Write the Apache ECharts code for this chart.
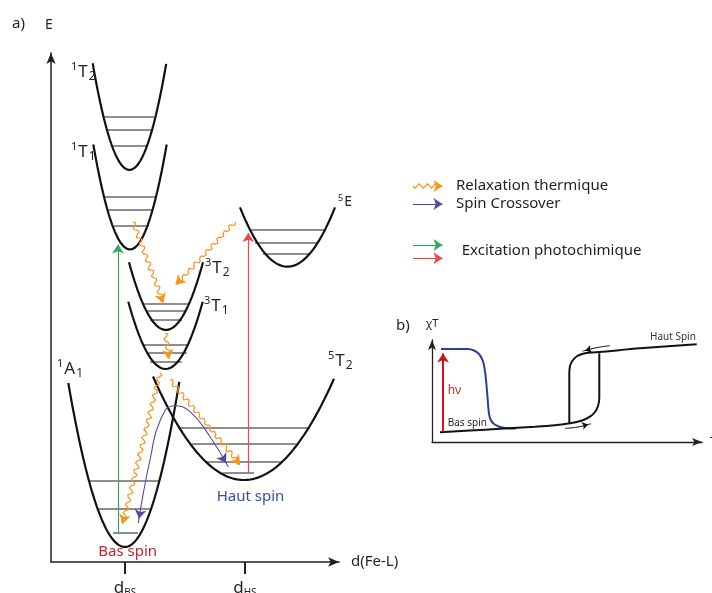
<!DOCTYPE html>
<html><head><meta charset="utf-8">
<script src="https://cdn.jsdelivr.net/npm/echarts@6/dist/echarts.min.js"></script>
<style>html,body{margin:0;padding:0;background:#fff}#c{width:712px;height:593px}</style>
</head><body><div id="c"></div>
<script>
// ---------- DATA (a): potential wells E = E0 + k (d - d0)^2 ----------
const wellNames = ['1T2', '1T1', '3T2', '3T1', '5E', '5T2', '1A1'];
const wellD0 = [78.5, 79, 115, 114.5, 236.5, 193, 74];
const wellE0 = [392, 312.5, 232, 193, 295.3, 82, 15];
const wellKL = [0.0788, 0.078, 0.0495, 0.0486, 0.0263, 0.0125, 0.051];
const wellKR = [0.0788, 0.078, 0.0495, 0.0486, 0.0263, 0.0125, 0.056];
const wellDL = [41.7, 42.3, 78, 77.3, 189, 102, 17.3];
const wellDR = [115.2, 115.7, 152, 151.7, 284, 283, 128.3];
// vibrational levels: energy, left d, right d
const levelE  = [445.3, 432.7, 416.3, 365.3, 352.7, 336.3, 258.7, 251, 242.7, 217.7, 209.3, 200.3, 332, 319.7, 308.7, 134.5, 118, 100, 89, 81, 53.7, 29.3];
const levelD1 = [53, 56, 62, 54, 57, 63, 92, 95, 99, 92, 95, 99, 199, 204, 212, 127, 141, 154, 172, 38.3, 47.3, 62];
const levelD2 = [103, 101, 96, 104.7, 102, 98, 137, 135, 131, 137, 135.7, 130.7, 273, 267, 259, 259, 247, 231, 203, 109, 100.7, 87];
// photochemical excitation arrows [d, E]
const greenArrow = [[67, 29], [67, 322]];
const redArrow = [[197.3, 89], [197.3, 333.5]];
// thermal relaxation (wavy) arrows: start and tip
const relaxStart = [[82, 340], [184, 340], [114, 229], [109, 189], [119, 182]];
const relaxTip = [[114, 255.3], [122, 274], [119, 199], [70.7, 34], [192, 94]];
// spin crossover path
const scoD = [87.3, 92.3, 99, 109, 123.3, 139, 159, 177.3];
const scoE = [39, 68.7, 102, 141, 156.3, 150.3, 125.3, 95.3];
// axis ticks
const tickD = [74, 194];
const tickSub = ['BS', 'HS'];

// ---------- DATA (b): chi T vs T ----------
const blueT  = [9, 36, 42, 47, 50.5, 52.5, 54, 55.5, 56.8, 58.5, 62, 68, 76, 84];
const blueX  = [93, 93, 91.5, 88, 82, 74, 62, 45, 30, 22.5, 18, 15, 13.8, 13.6];
const lowT   = [8, 38, 68, 103, 123, 138, 150, 158, 163, 166, 167.3, 167.3];
const lowX   = [9.7, 11.5, 13.2, 15.3, 16.8, 18.7, 21.5, 25.3, 30, 36, 44, 88.7];
const highT  = [137.3, 137.3, 138, 140.3, 144.5, 151, 160, 167.3, 208, 264.7];
const highX  = [18.7, 68, 76, 81, 85.5, 88.3, 89.6, 90, 93.7, 97.7];
const hvArrow = [[11, 10.3], [11, 93]];
const coolT = [178, 164, 150.5], coolX = [96.3, 94.2, 90.8];
const heatT = [133, 146, 159], heatX = [13.7, 15, 18.3];

const F = "'Noto Sans', 'Open Sans', sans-serif";
const INK = '#231f20';
const ORANGE = '#f7941d', PURPLE = '#5b48a2', GREEN = '#33a957', RED = '#ec4a4a';

function wellPts(i) {
  const pts = [], n = 160, a = wellDL[i], b = wellDR[i], d0 = wellD0[i];
  for (let j = 0; j <= n; j++) {
    const d = a + (b - a) * j / n;
    const k = d < d0 ? wellKL[i] : wellKR[i];
    pts.push([d, wellE0[i] + k * (d - d0) * (d - d0)]);
  }
  return pts;
}
function headSeg(from, tip, size) {
  const dx = tip[0] - from[0], dy = tip[1] - from[1], L = Math.hypot(dx, dy);
  const ux = dx / L, uy = dy / L;
  return [[tip[0] - ux * 8, tip[1] - uy * 8], [tip[0] - ux * size / 2, tip[1] - uy * size / 2]];
}
function straightArrow(from, tip, size) {
  const dx = tip[0] - from[0], dy = tip[1] - from[1], L = Math.hypot(dx, dy);
  return [from, [tip[0] - dx / L * size / 2, tip[1] - dy / L * size / 2]];
}
function wavy(p0, tip, amp, lam, tail) {
  const dx = tip[0] - p0[0], dy = tip[1] - p0[1], L = Math.hypot(dx, dy);
  const ux = dx / L, uy = dy / L, nx = -uy, ny = ux;
  const Lw = L - tail, n = Math.max(1, Math.round(Lw / lam)), l = Lw / n;
  const steps = Math.ceil(Lw / 0.6), pts = [];
  for (let i = 0; i <= steps; i++) {
    const s = Lw * i / steps, o = amp * Math.sin(2 * Math.PI * s / l);
    pts.push([p0[0] + ux * s + nx * o, p0[1] + uy * s + ny * o]);
  }
  return {pts, head: [[p0[0] + ux * Lw, p0[1] + uy * Lw], [tip[0] - ux * 4.5, tip[1] - uy * 4.5]]};
}
function lineS(g, data, color, width, extra) {
  return Object.assign({type: 'line', xAxisIndex: g, yAxisIndex: g, data, showSymbol: false, symbol: 'none',
    lineStyle: {color, width}, silent: true, animation: false, z: 3}, extra || {});
}
function arrowS(g, segs, color, width, size, z) {
  return {type: 'lines', coordinateSystem: 'cartesian2d', xAxisIndex: g, yAxisIndex: g,
    data: segs.map(s => ({coords: s})), symbol: ['none', 'arrow'], symbolSize: size,
    lineStyle: {color, width, opacity: 1}, silent: true, animation: false, z: z || 5};
}

const series = [];
// vibrational levels
series.push({type: 'lines', coordinateSystem: 'cartesian2d', xAxisIndex: 0, yAxisIndex: 0,
  data: levelE.map((e, i) => ({coords: [[levelD1[i], e], [levelD2[i], e]]})),
  lineStyle: {color: '#8e8e8e', width: 2, opacity: 1}, silent: true, animation: false, z: 2});
// wells
wellNames.forEach((nm, i) => series.push(lineS(0, wellPts(i), '#111', 2.2, {name: nm, z: 4})));
// excitation arrows
series.push(arrowS(0, [straightArrow(greenArrow[0], greenArrow[1], 9)], GREEN, 1.2, 9));
series.push(arrowS(0, [straightArrow(redArrow[0], redArrow[1], 9)], RED, 1.2, 9));
// relaxation wavy arrows
const heads = [];
relaxStart.forEach((s, i) => {
  const w = wavy(s, relaxTip[i], 2.6, 8.5, 5);
  series.push(lineS(0, w.pts, ORANGE, 1.2, {z: 6}));
  heads.push(w.head);
});
series.push(arrowS(0, heads, ORANGE, 1.2, 9, 6));
// spin crossover
const scoPts = scoD.map((d, i) => [d, scoE[i]]);
series.push(lineS(0, scoPts, PURPLE, 1.1, {smooth: 0.5, z: 6}));
series.push(arrowS(0, [headSeg(scoPts[1], scoPts[0], 9), headSeg(scoPts[6], scoPts[7], 9)], PURPLE, 1.1, 9, 6));

// inset (b)
series.push(lineS(1, blueT.map((t, i) => [t, blueX[i]]), '#2b3f9a', 2, {smooth: 0.4}));
series.push(lineS(1, lowT.map((t, i) => [t, lowX[i]]), '#111', 2, {smooth: 0.3}));
series.push(lineS(1, highT.map((t, i) => [t, highX[i]]), '#111', 2, {smooth: 0.3}));
series.push(arrowS(1, [straightArrow(hvArrow[0], hvArrow[1], 9)], '#c4161c', 2, 9));
series.push(lineS(1, coolT.map((t, i) => [t, coolX[i]]), '#111', 1, {smooth: 0.5}));
series.push(lineS(1, heatT.map((t, i) => [t, heatX[i]]), '#111', 1, {smooth: 0.5}));
series.push(arrowS(1, [headSeg([coolT[1], coolX[1]], [coolT[2], coolX[2]], 6), headSeg([heatT[1], heatX[1]], [heatT[2], heatX[2]], 6)], '#111', 1, 6));

// legend marks (pixel grid)
const lw = wavy([413, 186], [447, 186], 2.5, 8, 9);
series.push(lineS(2, lw.pts, ORANGE, 1.2));
series.push(arrowS(2, [lw.head], ORANGE, 1.2, 9));
series.push(arrowS(2, [straightArrow([413, 204], [447, 204], 9)], PURPLE, 1.1, 9));
series.push(arrowS(2, [straightArrow([413, 245], [447, 245], 9)], GREEN, 1.2, 9));
series.push(arrowS(2, [straightArrow([413, 258.3], [447, 258.3], 9)], RED, 1.2, 9));

function txt(x, y, text, size, color) {
  return {type: 'text', x, y, silent: true, z: 10,
    style: {text, fontSize: size, fontFamily: F, fill: color || INK, align: 'left', verticalAlign: 'middle'}};
}
function stateLabel(x, y, sup, main, sub, size) {
  return {type: 'text', x, y, silent: true, z: 10,
    style: {text: '{p|' + sup + '}{m|' + main + '}' + (sub ? '{b|' + sub + '}' : ''), fontFamily: F,
      align: 'left', verticalAlign: 'middle', fill: INK,
      rich: {
        p: {fontSize: Math.round(size * 0.62), fontFamily: F, fill: INK, padding: [0, 1, Math.round(size * 0.6), 0]},
        m: {fontSize: size, fontFamily: F, fill: INK},
        b: {fontSize: Math.round(size * 0.68), fontFamily: F, fill: INK, padding: [Math.round(size * 0.55), 0, 0, 1]}
      }}};
}

const option = {
  animation: false,
  textStyle: {fontFamily: F},
  grid: [
    {left: 51, top: 53, width: 288, height: 509, containLabel: false, outerBoundsMode: 'none'},
    {left: 432, top: 340, width: 270, height: 102, containLabel: false, outerBoundsMode: 'none'},
    {left: 0, top: 0, width: 712, height: 593, containLabel: false, outerBoundsMode: 'none'}
  ],
  xAxis: [
    {gridIndex: 0, type: 'value', min: 0, max: 288, name: 'd(Fe-L)', nameLocation: 'end', nameGap: 12,
      nameTextStyle: {fontSize: 15, color: INK, fontFamily: F, verticalAlign: 'middle'},
      axisLine: {show: true, onZero: false, symbol: ['none', 'arrow'], symbolSize: [7, 11], lineStyle: {color: INK, width: 1.5}},
      axisTick: {show: true, customValues: tickD, length: 12, inside: false, lineStyle: {color: INK, width: 2}},
      axisLabel: {show: true, customValues: tickD, margin: 16,
        formatter: v => '{d|d}{s|' + tickSub[tickD.indexOf(v)] + '}',
        rich: {d: {fontSize: 17, color: INK, fontFamily: F}, s: {fontSize: 10, color: INK, fontFamily: F, padding: [10, 0, 0, 0]}}},
      splitLine: {show: false}},
    {gridIndex: 1, type: 'value', min: 0, max: 270, name: 'T', nameLocation: 'end', nameGap: 8,
      nameTextStyle: {fontSize: 11, color: INK, fontFamily: F},
      axisLine: {show: true, onZero: false, symbol: ['none', 'arrow'], symbolSize: [6, 10], lineStyle: {color: INK, width: 1.3}},
      axisTick: {show: false}, axisLabel: {show: false}, splitLine: {show: false}},
    {gridIndex: 2, type: 'value', min: 0, max: 712, show: false}
  ],
  yAxis: [
    {gridIndex: 0, type: 'value', min: 0, max: 509, name: 'E', nameLocation: 'end', nameGap: 21,
      nameTextStyle: {fontSize: 14, color: INK, fontFamily: F, padding: [0, 4, 0, 0]},
      axisLine: {show: true, onZero: false, symbol: ['none', 'arrow'], symbolSize: [7, 11], lineStyle: {color: INK, width: 1.5}},
      axisTick: {show: false}, axisLabel: {show: false}, splitLine: {show: false}},
    {gridIndex: 1, type: 'value', min: 0, max: 102, name: 'χT', nameLocation: 'end', nameGap: 11,
      nameTextStyle: {fontSize: 11, color: INK, fontFamily: F},
      axisLine: {show: true, onZero: false, symbol: ['none', 'arrow'], symbolSize: [6, 10], lineStyle: {color: INK, width: 1.3}},
      axisTick: {show: false}, axisLabel: {show: false}, splitLine: {show: false}},
    {gridIndex: 2, type: 'value', min: 0, max: 593, inverse: true, show: false}
  ],
  graphic: [
    txt(12, 24, 'a)', 15),
    txt(396, 326, 'b)', 15),
    txt(456, 186, 'Relaxation thermique', 15),
    txt(456, 204, 'Spin Crossover', 15),
    txt(461.7, 251, 'Excitation photochimique', 15),
    txt(216.7, 497, 'Haut spin', 15, '#3b4ea1'),
    txt(98.3, 551.7, 'Bas spin', 15, '#c1272d'),
    txt(447.7, 391, 'hν', 12, '#c1272d'),
    txt(447.7, 423.3, 'Bas spin', 10),
    txt(650, 336.7, 'Haut Spin', 10, '#333'),
    stateLabel(71, 72, '1', 'T', '2', 17),
    stateLabel(71, 152, '1', 'T', '1', 17),
    stateLabel(205, 268, '3', 'T', '2', 17),
    stateLabel(204, 306, '3', 'T', '1', 17),
    stateLabel(57, 369, '1', 'A', '1', 17),
    stateLabel(328, 361, '5', 'T', '2', 17),
    stateLabel(338, 202, '5', 'E', '', 14)
  ],
  series
};
const chart = echarts.init(document.getElementById('c'));
chart.setOption(option);
</script>
</body></html>
